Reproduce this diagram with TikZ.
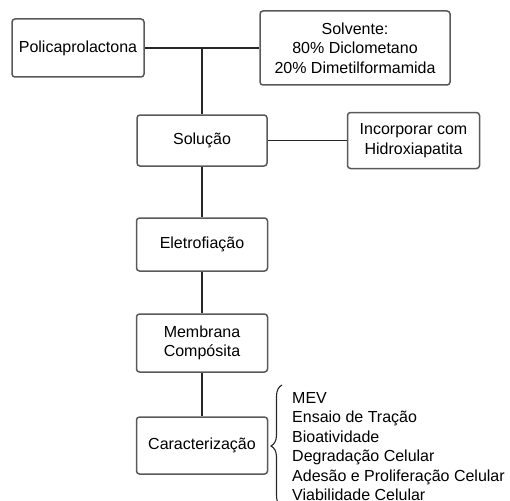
\documentclass[tikz,border=0pt]{standalone}
\usepackage{fontspec}
\setmainfont{Liberation Sans}
\usepackage{tikz}
\usetikzlibrary{decorations.pathreplacing, positioning}

\begin{document}
\begin{tikzpicture}[x=1pt, y=-1pt,
    hop/.style={draw=black!65, line width=1.5pt, rounded corners=3pt, align=center, inner sep=0pt, font=\fontsize{16}{19.5}\selectfont},
    noi/.style={draw=black!85, line width=1.5pt}]

            \clip (0,0) rectangle (510,500);

            % Vẽ các hộp
            \node[hop, minimum width=132, minimum height=58] (pcl) at (78,48) {Policaprolactona};
            \node[hop, minimum width=190, minimum height=74] (solv) at (355,48) {Solvente:\\80\% Diclometano\\20\% Dimetilformamida};
            \node[hop, minimum width=130, minimum height=51] (sol) at (202,140.5) {Solução};
            \node[hop, minimum width=132, minimum height=56] (inc) at (413.5,140.5) {Incorporar com\\Hidroxiapatita};
            \node[hop, minimum width=131, minimum height=53] (ele) at (202,244.5) {Eletrofiação};
            \node[hop, minimum width=131, minimum height=58] (mem) at (202,343) {Membrana\\Compósita};
            \node[hop, minimum width=131, minimum height=57] (car) at (202,445.5) {Caracterização};

            % Vẽ đường nối
            \coordinate (giao) at (202,48);
            \draw[noi] (pcl.east) -- (solv.west);
            \draw[noi] (giao) -- (sol.north);
            \draw[noi] (sol.east) -- (inc.west);
            \draw[noi] (sol.south) -- (ele.north);
            \draw[noi] (ele.south) -- (mem.north);
            \draw[noi] (mem.south) -- (car.north);

            % Dấu ngoặc và danh sách
            \coordinate (ngoacduoi) at (282,507);
            \coordinate (ngoactren) at (282,385);
            \draw[black!85, line width=1.1pt, decorate, decoration={brace, amplitude=11}] (ngoacduoi) -- (ngoactren);
            \node[anchor=north west, align=left, inner sep=0pt, font=\fontsize{16}{19.5}\selectfont] (ds) at (292,392)
                {MEV\\Ensaio de Tração\\Bioatividade\\Degradação Celular\\Adesão e Proliferação Celular\\Viabilidade Celular};

\end{tikzpicture}
\end{document}
